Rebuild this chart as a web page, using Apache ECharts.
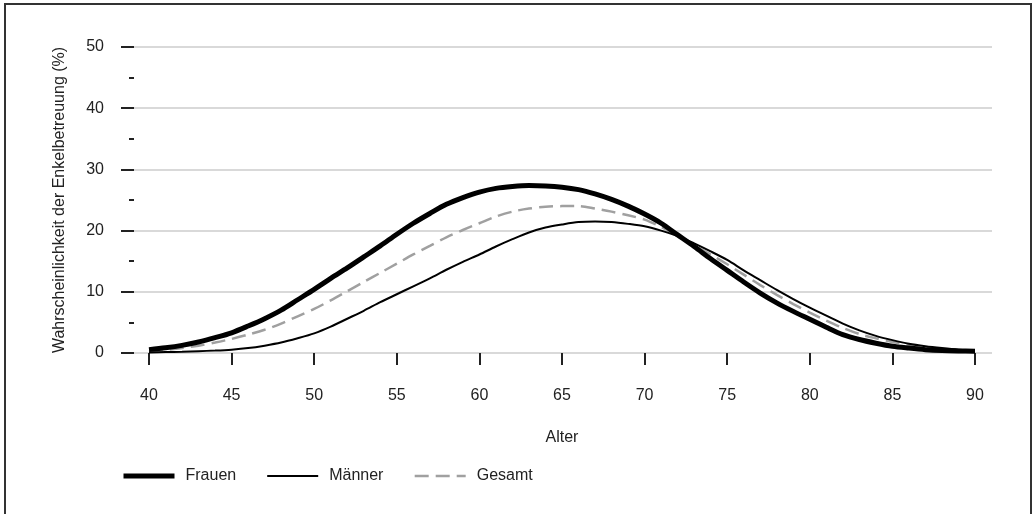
<!DOCTYPE html>
<html>
<head>
<meta charset="utf-8">
<script src="https://cdn.jsdelivr.net/npm/echarts@6/dist/echarts.min.js"></script>
<style>
html,body{margin:0;padding:0;background:#fff;}
#c{width:1034px;height:514px;}
</style>
</head>
<body>
<div id="c"></div>
<script>
var ages = [40,41,42,43,44,45,46,47,48,49,50,51,52,53,54,55,56,57,58,59,60,61,62,63,64,65,66,67,68,69,70,71,72,73,74,75,76,77,78,79,80,81,82,83,84,85,86,87,88,89,90];
var frauen = [0.55,0.85,1.25,1.8,2.5,3.3,4.4,5.6,7.0,8.7,10.4,12.2,13.9,15.7,17.5,19.4,21.2,22.8,24.3,25.4,26.3,26.9,27.2,27.35,27.3,27.1,26.7,26.0,25.1,24.0,22.7,21.2,19.3,17.4,15.4,13.5,11.6,9.8,8.2,6.8,5.5,4.2,3.0,2.2,1.6,1.1,0.8,0.55,0.4,0.33,0.3];
var maenner = [0.1,0.15,0.2,0.3,0.4,0.55,0.8,1.2,1.7,2.4,3.2,4.3,5.6,6.9,8.3,9.6,10.9,12.2,13.6,14.9,16.1,17.4,18.6,19.7,20.5,21.0,21.4,21.5,21.4,21.1,20.7,20.0,19.1,17.9,16.6,15.2,13.5,11.9,10.3,8.8,7.4,6.1,4.8,3.7,2.8,2.1,1.5,1.1,0.8,0.55,0.4];
var gesamt = [0.3,0.5,0.8,1.2,1.7,2.3,3.0,3.8,4.8,6.0,7.2,8.6,10.1,11.6,13.1,14.6,16.1,17.5,18.9,20.1,21.2,22.3,23.1,23.6,23.9,24.0,24.0,23.6,23.1,22.5,21.8,20.6,19.2,17.6,16.1,14.5,12.8,11.1,9.5,8.0,6.6,5.3,4.1,3.1,2.4,1.8,1.3,0.9,0.65,0.5,0.4];
var seriesNames = ['Frauen','Männer','Gesamt'];
var xTitle = 'Alter';
var yTitle = 'Wahrscheinlichkeit der Enkelbetreuung (%)';

function pairs(ys){ return ages.map(function(a,i){ return [a, ys[i]]; }); }

var FONT = '"Liberation Sans", Arial, sans-serif';
var chart = echarts.init(document.getElementById('c'), null, {renderer:'canvas'});
chart.setOption({
  backgroundColor:'#fff',
  animation:false,
  textStyle:{fontFamily:FONT},
  graphic:[{type:'rect', shape:{x:5,y:4,width:1026,height:530}, style:{fill:'none', stroke:'#333', lineWidth:2}, silent:true}],
  grid:[
    {left:134, right:42, top:47, bottom:161},
    {left:149, right:59, top:47, bottom:161}
  ],
  legend:{
    left:121, top:468, padding:0,
    itemWidth:51, itemHeight:14, itemGap:30,
    itemStyle:{opacity:0},
    lineStyle:{width:'inherit'},
    textStyle:{fontSize:16, color:'#222', fontFamily:FONT, padding:[0,0,0,6]},
    data:seriesNames
  },
  xAxis:[
    {gridIndex:0, type:'value', min:0, max:1, show:false},
    {gridIndex:1, type:'value', min:40, max:90, interval:5,
     axisLine:{show:false},
     axisTick:{show:true, length:12, lineStyle:{color:'#222', width:2}},
     axisLabel:{margin:35, fontSize:16, color:'#222', fontFamily:FONT},
     splitLine:{show:false},
     name:xTitle, nameLocation:'middle', nameGap:77,
     nameTextStyle:{fontSize:16, color:'#222', fontFamily:FONT}}
  ],
  yAxis:[
    {gridIndex:0, type:'value', min:0, max:50, interval:10,
     axisLine:{show:false},
     axisTick:{show:true, length:13, lineStyle:{color:'#222', width:2}},
     minorTick:{show:true, splitNumber:2, length:5, lineStyle:{color:'#222', width:2}},
     axisLabel:{margin:30, fontSize:16, color:'#222', fontFamily:FONT},
     splitLine:{show:true, lineStyle:{color:'#cccccc', width:1.5}},
     name:yTitle, nameLocation:'middle', nameGap:66,
     nameTextStyle:{fontSize:16, color:'#222', fontFamily:FONT}},
    {gridIndex:1, type:'value', min:0, max:50, interval:10, show:false}
  ],
  series:[
    {name:'Gesamt', type:'line', xAxisIndex:1, yAxisIndex:1, data:pairs(gesamt), smooth:0.3,
     symbol:'none', showSymbol:false, z:2,
     lineStyle:{color:'#a0a0a0', width:2.5, type:[14,7]}, itemStyle:{color:'#a0a0a0'}},
    {name:'Männer', type:'line', xAxisIndex:1, yAxisIndex:1, data:pairs(maenner), smooth:0.3,
     symbol:'none', showSymbol:false, z:3,
     lineStyle:{color:'#000', width:2}, itemStyle:{color:'#000'}},
    {name:'Frauen', type:'line', xAxisIndex:1, yAxisIndex:1, data:pairs(frauen), smooth:0.3,
     symbol:'none', showSymbol:false, z:4,
     lineStyle:{color:'#000', width:5}, itemStyle:{color:'#000'}}
  ]
});
</script>
</body>
</html>
